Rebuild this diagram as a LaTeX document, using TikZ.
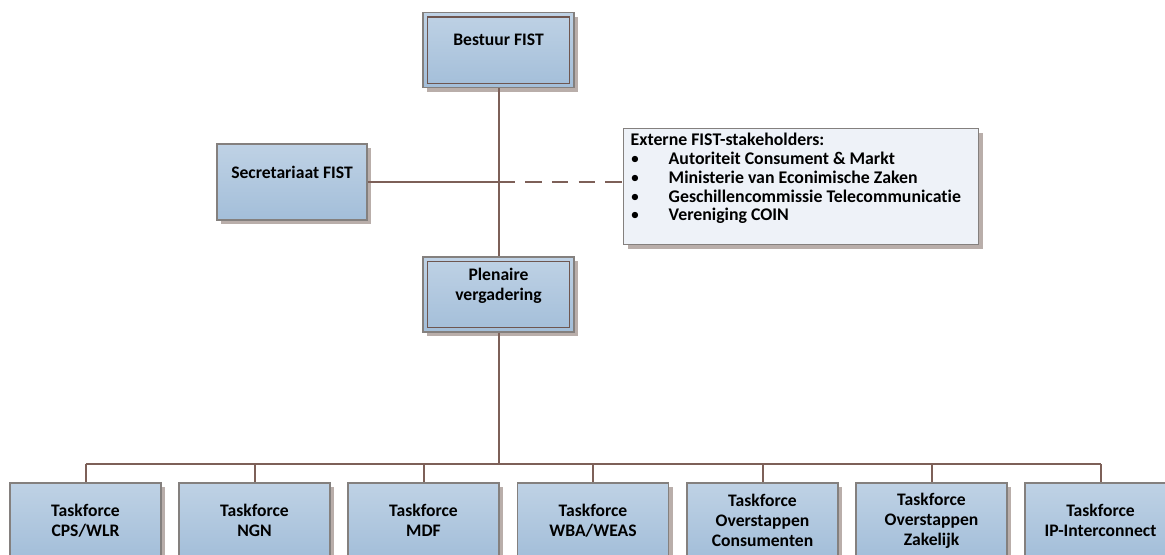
\documentclass[tikz,border=0pt]{standalone}
\usepackage{fontspec}
\setmainfont[Ligatures=NoCommon]{Carlito}
\usetikzlibrary{shadows}

\definecolor{lijn}{HTML}{7D6058}
\definecolor{rand}{HTML}{84807E}
\definecolor{binnenrand}{HTML}{6E5650}
\definecolor{boven}{HTML}{BFD2E5}
\definecolor{onder}{HTML}{A3BED9}
\definecolor{schaduw}{HTML}{B9AEAA}
\definecolor{lichtvak}{HTML}{EEF2F8}

\newcommand\punt{\makebox[19pt][l]{\mdseries\textbullet}}

\begin{document}
\begin{tikzpicture}[x=0.5pt,y=-0.5pt,
    font=\fontsize{8.8}{10}\selectfont\bfseries,
    vak/.style={draw=rand, line width=0.7pt, top color=boven, bottom color=onder,
        minimum width=75.5pt, minimum height=37.5pt, align=center, inner sep=1pt,
        drop shadow={shadow xshift=2pt, shadow yshift=-2pt, fill=schaduw, opacity=1}},
    hoog/.style={text depth=#1},
    lijnstuk/.style={draw=lijn, line width=1pt}]
    \useasboundingbox (0,0) rectangle (1165,554);
    \clip (0,0) rectangle (1165,554);

    \node[vak, hoog=10pt] (bestuur) at (498.5,50) {Bestuur FIST};
    \node[vak, hoog=10pt, minimum width=75pt, minimum height=38pt] (secr) at (292,182) {Secretariaat FIST};
    \node[vak, hoog=10pt] (plen) at (498.5,294.5) {Plenaire\\vergadering};
    \node[draw=rand, line width=0.7pt, fill=lichtvak, anchor=north west,
        inner xsep=3.5pt, inner ysep=2pt, text height=6.5pt, text depth=47.5pt,
        drop shadow={shadow xshift=2pt, shadow yshift=-2pt, fill=schaduw, opacity=1},
        font=\fontsize{8.9}{9.4}\selectfont\bfseries] (extern) at (623,128)
        {\parbox[t]{170.5pt}{\raggedright Externe FIST-stakeholders:\\
            \punt Autoriteit Consument \& Markt\\
            \punt Ministerie van Econimische Zaken\\
            \punt Geschillencommissie Telecommunicatie\\
            \punt Vereniging COIN}};

    \foreach \n in {bestuur,plen}
        \draw[binnenrand, line width=0.7pt] ([xshift=2.5pt,yshift=2.5pt]\n.south west)
            rectangle ([xshift=-2.5pt,yshift=-2.5pt]\n.north east);

    \node[vak] (tf1) at (85.5,520.5) {Taskforce\\CPS/WLR};
    \node[vak] (tf2) at (254.5,520.5) {Taskforce\\NGN};
    \node[vak] (tf3) at (423.5,520.5) {Taskforce\\MDF};
    \node[vak] (tf4) at (593,520.5) {Taskforce\\WBA/WEAS};
    \node[vak] (tf5) at (762.5,520.5) {Taskforce\\Overstappen\\Consumenten};
    \node[vak] (tf6) at (931.5,520.5) {Taskforce\\Overstappen\\Zakelijk};
    \node[vak] (tf7) at (1100.5,520.5) {Taskforce\\IP-Interconnect};

    \coordinate (bus) at (498.5,464);
    \draw[lijnstuk] (bestuur.south) -- (plen.north);
    \draw[lijnstuk] (plen.south) -- (bus);
    \draw[lijnstuk] (tf1.north |- bus) -- (tf7.north |- bus);
    \foreach \i in {1,...,7}
        \draw[lijnstuk] (tf\i.north |- bus) -- (tf\i.north);

    \draw[lijnstuk] (secr.east) -- (secr.east -| bestuur.south);
    \draw[lijnstuk, dash pattern=on 8.25pt off 5.1pt]
        (secr.east -| bestuur.south) -- (extern.west |- secr.east);
\end{tikzpicture}
\end{document}
